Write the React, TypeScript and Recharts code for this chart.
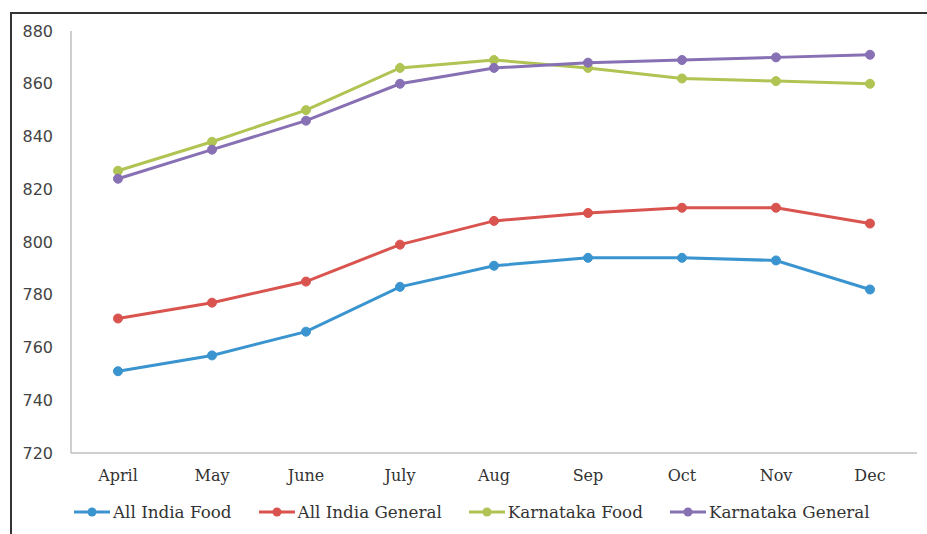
import { LineChart, Line, XAxis, YAxis } from "recharts";

const months = ["April", "May", "June", "July", "Aug", "Sep", "Oct", "Nov", "Dec"];
const allIndiaFood = [751, 757, 766, 783, 791, 794, 794, 793, 782];
const allIndiaGeneral = [771, 777, 785, 799, 808, 811, 813, 813, 807];
const karnatakaFood = [827, 838, 850, 866, 869, 866, 862, 861, 860];
const karnatakaGeneral = [824, 835, 846, 860, 866, 868, 869, 870, 871];
const yTicks = [720, 740, 760, 780, 800, 820, 840, 860, 880];

const series = [
  { key: "aif", name: "All India Food", color: "#3a94cf", values: allIndiaFood },
  { key: "aig", name: "All India General", color: "#d9534f", values: allIndiaGeneral },
  { key: "kf", name: "Karnataka Food", color: "#afc452", values: karnatakaFood },
  { key: "kg", name: "Karnataka General", color: "#8870b4", values: karnatakaGeneral },
];

const data = months.map((m, i) => {
  const row: Record<string, string | number> = { month: m };
  series.forEach((s) => (row[s.key] = s.values[i]));
  return row;
});

const serif = "'DejaVu Serif', serif";

export default function App() {
  return (
    <div style={{ position: "absolute", left: 0, top: 0, width: 927, height: 534, background: "#fff", overflow: "hidden" }}>
      <div
        style={{
          position: "absolute",
          left: 10,
          top: 12,
          width: 940,
          height: 540,
          borderLeft: "2px solid #333",
          borderTop: "2px solid #333",
        }}
      />
      <LineChart width={927} height={534} data={data} margin={{ top: 31, right: 10, bottom: 51, left: 11 }}>
        <XAxis
          dataKey="month"
          height={30}
          padding={{ left: 47, right: 47 }}
          tickLine={false}
          tickSize={0}
          tickMargin={17}
          axisLine={{ stroke: "#bfbfbf", strokeWidth: 1.5 }}
          tick={{ fill: "#333", fontSize: 16, fontFamily: serif }}
        />
        <YAxis
          width={60}
          domain={[720, 880]}
          ticks={yTicks}
          tickLine={false}
          tickSize={0}
          tickMargin={18}
          axisLine={{ stroke: "#bfbfbf", strokeWidth: 1.5 }}
          tick={{ fill: "#444", fontSize: 16, fontFamily: "'DejaVu Sans', sans-serif" }}
        />
        {series.map((s) => (
          <Line
            key={s.key}
            dataKey={s.key}
            name={s.name}
            type="linear"
            stroke={s.color}
            strokeWidth={3}
            dot={{ r: 4.5, fill: s.color, stroke: s.color, strokeWidth: 1 }}
            isAnimationActive={false}
          />
        ))}
      </LineChart>
      <div
        style={{
          position: "absolute",
          left: 74,
          top: 502,
          display: "flex",
          gap: 27,
          fontFamily: serif,
          fontSize: 16.75,
          color: "#333",
          whiteSpace: "nowrap",
        }}
      >
        {series.map((s) => (
          <div key={s.key} style={{ display: "flex", alignItems: "center", gap: 3 }}>
            <svg width={36} height={12}>
              <line x1={0} y1={6} x2={36} y2={6} stroke={s.color} strokeWidth={3} />
              <circle cx={18} cy={6} r={4.5} fill={s.color} />
            </svg>
            <span>{s.name}</span>
          </div>
        ))}
      </div>
    </div>
  );
}
